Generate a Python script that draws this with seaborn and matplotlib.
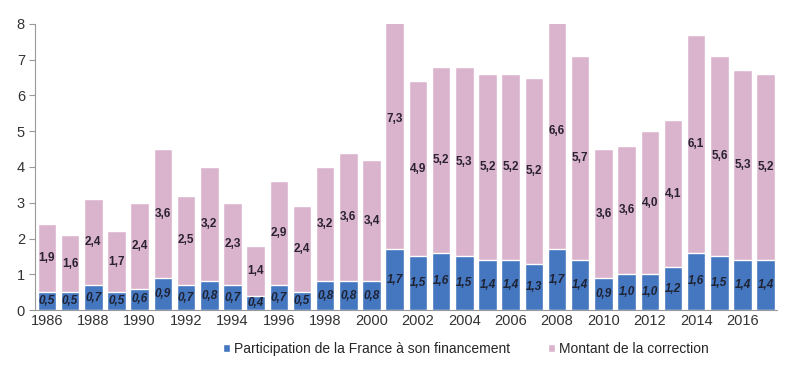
import matplotlib
matplotlib.use("Agg")
import matplotlib.pyplot as plt
import pandas as pd
import seaborn as sns
from matplotlib.patches import Patch

years = list(range(1986, 2018))
france = [0.5, 0.5, 0.7, 0.5, 0.6, 0.9, 0.7, 0.8, 0.7, 0.4, 0.7, 0.5, 0.8, 0.8, 0.8,
          1.7, 1.5, 1.6, 1.5, 1.4, 1.4, 1.3, 1.7, 1.4, 0.9, 1.0, 1.0, 1.2, 1.6, 1.5, 1.4, 1.4]
correction = [1.9, 1.6, 2.4, 1.7, 2.4, 3.6, 2.5, 3.2, 2.3, 1.4, 2.9, 2.4, 3.2, 3.6, 3.4,
              7.3, 4.9, 5.2, 5.3, 5.2, 5.2, 5.2, 6.6, 5.7, 3.6, 3.6, 4.0, 4.1, 6.1, 5.6, 5.3, 5.2]
series_names = ["Participation de la France à son financement", "Montant de la correction"]

BLUE = "#4477c0"
PINK = "#dab4cd"

df = pd.DataFrame({"year": [str(y) for y in years], "france": france, "correction": correction})
df["total"] = df["france"] + df["correction"]

sns.set_style("white")
plt.rcParams["font.family"] = ["Liberation Sans", "DejaVu Sans"]

fig, ax = plt.subplots(figsize=(8.03, 3.67), dpi=100)
fig.subplots_adjust(left=0.044, right=0.968, top=0.935, bottom=0.155)

order = df["year"].tolist()
sns.barplot(data=df, x="year", y="total", order=order, color=PINK, width=0.8,
            saturation=1, ax=ax)
sns.barplot(data=df, x="year", y="france", order=order, color=BLUE, width=0.8,
            saturation=1, ax=ax)


def fmt(v):
    return f"{v:.1f}".replace(".", ",")


for i, row in df.iterrows():
    ax.text(i, row["france"] / 2, fmt(row["france"]), ha="center", va="center",
            fontsize=8.5, fontweight="bold", fontstyle="italic", color="#1f2233")
    ax.text(i, row["france"] + row["correction"] / 2, fmt(row["correction"]),
            ha="center", va="center", fontsize=8.5, fontweight="bold", color="#2a2230",
            clip_on=True)

ax.set_ylim(0, 8)
ax.set_xlim(-0.5, len(years) - 0.5)
ax.set_yticks(range(0, 9))
ax.set_xticks(range(0, len(years), 2))
ax.set_xticklabels(order[::2])
ax.set_xticks([i - 0.5 for i in range(0, len(years) + 1, 2)], minor=True)
ax.tick_params(axis="x", which="major", length=0, labelsize=10.5, colors="#333333", pad=3)
ax.tick_params(axis="x", which="minor", length=4, color="#999999", direction="out")
ax.tick_params(axis="y", length=4, color="#999999", labelsize=10.5, labelcolor="#333333",
               direction="out", left=True)
ax.set_xlabel("")
ax.set_ylabel("")
sns.despine(ax=ax)
for s in ["left", "bottom"]:
    ax.spines[s].set_color("#999999")
    ax.spines[s].set_linewidth(0.8)

handles = [Patch(facecolor=BLUE, label=series_names[0]),
           Patch(facecolor=PINK, label=series_names[1])]
fig.legend(handles=handles, loc="lower center", bbox_to_anchor=(0.58, -0.005), ncol=2,
           frameon=False, fontsize=10, handlelength=0.5, handleheight=0.5,
           handletextpad=0.3, columnspacing=2.7)

fig.savefig("out.png", dpi=100)
